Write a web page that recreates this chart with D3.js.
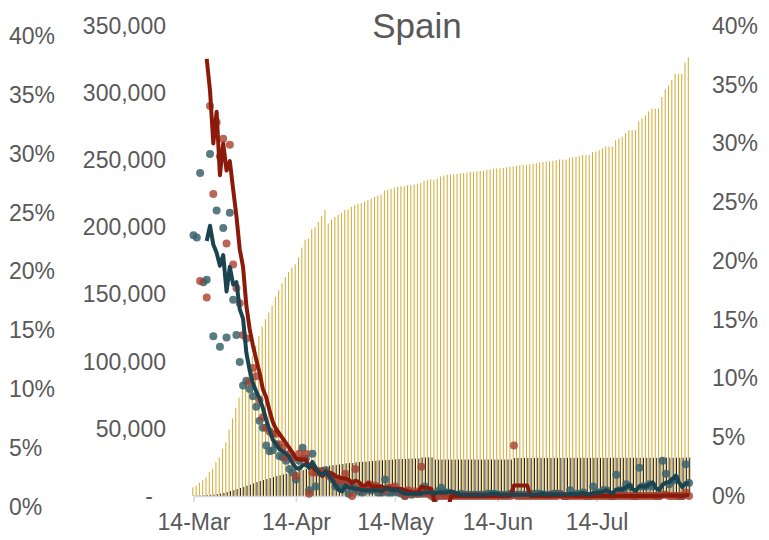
<!DOCTYPE html>
<html>
<head>
<meta charset="utf-8">
<script src="https://cdnjs.cloudflare.com/ajax/libs/d3/7.8.5/d3.min.js"></script>
<style>
body { margin: 0; background: #fff; }
svg text { font-family: "Liberation Sans", Arial, sans-serif; fill: #595959; }
</style>
</head>
<body>
<div id="chart"></div>
<script>
// Spain, daily from 14-Mar to 11-Aug
var startDate = new Date(2020, 2, 14);
var endDate = new Date(2020, 7, 11);

var tickDates = [new Date(2020, 2, 14), new Date(2020, 3, 14), new Date(2020, 4, 14), new Date(2020, 5, 14), new Date(2020, 6, 14)];
var casesTicks = [0, 50000, 100000, 150000, 200000, 250000, 300000, 350000];
var pctTicks = [0, 5, 10, 15, 20, 25, 30, 35, 40];

// cumulative confirmed cases
var cumCases = [
  6391, 7798, 9942, 11748, 13910, 17963, 20410, 25374, 28603, 35136,
  39885, 49515, 57786, 65719, 73235, 80110, 87956, 95923, 104118, 112065,
  119199, 126168, 131646, 136675, 141942, 148220, 153222, 158273, 163027, 166831,
  170099, 172541, 177644, 184948, 190839, 191726, 198674, 200210, 204178, 208389,
  213024, 202990, 205905, 207634, 209465, 210773, 212917, 213435, 215216, 216582,
  217466, 218011, 219329, 220325, 221447, 222857, 223578, 224350, 227436, 228030,
  228691, 229540, 230183, 230698, 230698, 231350, 231606, 232037, 232555, 233037,
  234824, 235290, 235772, 235400, 236259, 237906, 238564, 239228, 239479, 239638,
  239932, 240326, 240660, 240978, 241310, 241550, 241717, 241966, 242280, 242707,
  243209, 243605, 243928, 244109, 244328, 244683, 245268, 245575, 245938, 246272,
  246504, 246752, 247086, 247486, 247905, 248469, 248770, 248970, 249271, 249659,
  250103, 250545, 250545, 250545, 251789, 252130, 252513, 253056, 253908, 253908,
  253908, 255953, 256619, 257494, 258855, 260255, 260255, 260255, 264836, 266194,
  267551, 270166, 272421, 272421, 272421, 279000, 281200, 283500, 286300, 288522,
  288522, 288522, 297054, 302814, 305767, 309855, 314362, 314362, 314362, 322980,
  326612
];

// cumulative deaths
var cumDeaths = [
  195, 289, 342, 533, 623, 830, 1043, 1375, 1772, 2311,
  2808, 3647, 4365, 5138, 5982, 6803, 7716, 8464, 9387, 10348,
  11198, 11947, 12641, 13341, 14045, 14792, 15447, 16081, 16606, 17209,
  17756, 18056, 18708, 19315, 20002, 20043, 20453, 20852, 21282, 21717,
  22157, 22524, 22902, 23190, 23521, 23822, 24275, 24543, 24543, 25100,
  25264, 25428, 25613, 25857, 26070, 26299, 26478, 26621, 26744, 26920,
  27104, 27321, 27459, 27563, 27563, 27709, 27778, 27888, 27940, 28628,
  28678, 28752, 28752, 27117, 27117, 27118, 27119, 27121, 27125, 27127,
  27127, 27128, 27133, 27134, 27135, 27136, 27136, 27136, 27136, 27136,
  27136, 27136, 27136, 27136, 27136, 27136, 27136, 28315, 28322, 28322,
  28324, 28325, 28327, 28330, 28338, 28338, 28338, 28346, 28355, 28363,
  28368, 28385, 28385, 28385, 28388, 28392, 28396, 28401, 28403, 28403,
  28403, 28406, 28409, 28413, 28416, 28420, 28420, 28420, 28422, 28424,
  28426, 28429, 28432, 28432, 28432, 28436, 28441, 28443, 28445, 28445,
  28445, 28445, 28472, 28498, 28499, 28500, 28503, 28503, 28503, 28576,
  28579
];

// daily growth of cases, %
var caseGrowth = [
  22.2, 22.0, 27.5, 18.2, 18.4, 29.1, 13.6, 24.3, 12.7, 22.8,
  13.5, 24.1, 16.7, 13.7, 11.4, 9.4, 9.8, 9.1, 8.5, 7.6,
  6.4, 5.8, 4.3, 3.8, 3.9, 4.4, 3.4, 3.3, 3.0, 2.3,
  2.0, 1.4, 3.0, 4.1, 3.2, 0.5, 3.6, 0.8, 2.0, 2.1,
  2.2, -4.7, 1.4, 0.8, 0.9, 0.6, 1.0, 0.2, 0.8, 0.6,
  0.4, 0.3, 0.6, 0.5, 0.5, 0.6, 0.3, 0.3, 1.4, 0.3,
  0.3, 0.4, 0.3, 0.2, 0.0, 0.3, 0.1, 0.2, 0.2, 0.2,
  0.8, 0.2, 0.2, -0.2, 0.4, 0.7, 0.3, 0.3, 0.1, 0.1,
  0.1, 0.2, 0.1, 0.1, 0.1, 0.1, 0.1, 0.1, 0.1, 0.2,
  0.2, 0.2, 0.1, 0.1, 0.1, 0.1, 0.2, 0.1, 0.1, 0.1,
  0.1, 0.1, 0.1, 0.2, 0.2, 0.2, 0.1, 0.1, 0.1, 0.2,
  0.2, 0.2, 0.0, 0.0, 0.5, 0.1, 0.2, 0.2, 0.3, 0.0,
  0.0, 0.8, 0.3, 0.3, 0.5, 0.5, 0.0, 0.0, 1.8, 0.5,
  0.5, 1.0, 0.8, 0.0, 0.0, 2.4, 0.8, 0.8, 1.0, 0.8,
  0.0, 0.0, 3.0, 1.9, 1.0, 1.3, 1.5, 0.0, 0.0, 2.7,
  1.1
];

// daily growth of deaths, %
var deathGrowth = [
  46.6, 48.2, 18.3, 55.8, 16.9, 33.2, 25.7, 31.8, 28.9, 30.4,
  21.5, 29.9, 19.7, 17.7, 16.4, 13.7, 13.4, 9.7, 10.9, 10.2,
  8.2, 6.7, 5.8, 5.5, 5.3, 5.3, 4.4, 4.1, 3.3, 3.6,
  3.2, 1.7, 3.6, 3.2, 3.6, 0.2, 2.0, 2.0, 2.1, 2.0,
  2.0, 1.7, 1.7, 1.3, 1.4, 1.3, 1.9, 1.1, 0.0, 2.3,
  0.7, 0.6, 0.7, 1.0, 0.8, 0.9, 0.7, 0.5, 0.5, 0.7,
  0.7, 0.8, 0.5, 0.4, 0.0, 0.5, 0.2, 0.4, 0.2, 2.5,
  0.2, 0.3, 0.0, -5.7, 0.0, 0.0, 0.0, 0.0, 0.0, 0.0,
  0.0, 0.0, 0.0, 0.0, 0.0, 0.0, 0.0, 0.0, 0.0, 0.0,
  0.0, 0.0, 0.0, 0.0, 0.0, 0.0, 0.0, 4.3, 0.0, 0.0,
  0.0, 0.0, 0.0, 0.0, 0.0, 0.0, 0.0, 0.0, 0.0, 0.0,
  0.0, 0.1, 0.0, 0.0, 0.0, 0.0, 0.0, 0.0, 0.0, 0.0,
  0.0, 0.0, 0.0, 0.0, 0.0, 0.0, 0.0, 0.0, 0.0, 0.0,
  0.0, 0.0, 0.0, 0.0, 0.0, 0.0, 0.0, 0.0, 0.0, 0.0,
  0.0, 0.0, 0.1, 0.1, 0.0, 0.0, 0.0, 0.0, 0.0, 0.3,
  0.0
];

// 5-day average of case growth, %
var caseGrowthAvg = [
  null, null, null, null, 21.7, 23.0, 21.4, 20.7, 19.6, 20.5,
  17.4, 19.5, 18.0, 18.2, 15.9, 15.1, 12.2, 10.7, 9.6, 8.9,
  8.3, 7.5, 6.5, 5.6, 4.8, 4.4, 4.0, 3.8, 3.6, 3.3,
  2.8, 2.4, 2.3, 2.6, 2.7, 2.4, 2.9, 2.4, 2.0, 1.8,
  2.1, 1.7, 1.4, 0.9, 0.5, 0.4, 0.9, 0.7, 0.7, 0.6,
  0.6, 0.5, 0.5, 0.5, 0.5, 0.5, 0.5, 0.4, 0.6, 0.6,
  0.5, 0.5, 0.5, 0.3, 0.2, 0.2, 0.2, 0.2, 0.2, 0.2,
  0.3, 0.3, 0.3, 0.2, 0.3, 0.3, 0.3, 0.3, 0.4, 0.3,
  0.2, 0.1, 0.1, 0.1, 0.1, 0.1, 0.1, 0.1, 0.1, 0.1,
  0.2, 0.2, 0.2, 0.1, 0.1, 0.1, 0.1, 0.1, 0.1, 0.1,
  0.1, 0.1, 0.1, 0.1, 0.1, 0.2, 0.2, 0.1, 0.14, 0.14,
  0.14, 0.16, 0.14, 0.12, 0.18, 0.16, 0.16, 0.2, 0.26, 0.16,
  0.14, 0.26, 0.28, 0.28, 0.38, 0.48, 0.32, 0.26, 0.56, 0.56,
  0.56, 0.76, 0.92, 0.56, 0.46, 0.84, 0.8, 0.8, 1.0, 1.16,
  0.68, 0.52, 0.96, 1.14, 1.18, 1.44, 1.74, 1.14, 0.76, 1.1,
  1.06
];

// 5-day average of death growth, %
var deathGrowthAvg = [
  null, null, null, null, 37.2, 34.5, 30.0, 32.7, 27.3, 30.0,
  27.7, 28.5, 26.1, 23.8, 21.0, 19.5, 16.2, 14.2, 12.8, 11.6,
  10.5, 9.1, 8.4, 7.3, 6.3, 5.7, 5.3, 4.9, 4.5, 4.1,
  3.7, 3.2, 3.1, 3.1, 3.1, 2.5, 2.5, 2.2, 2.0, 1.7,
  2.0, 2.0, 1.9, 1.7, 1.6, 1.5, 1.5, 1.4, 1.1, 1.3,
  1.2, 0.9, 0.9, 1.1, 0.8, 0.8, 0.8, 0.8, 0.7, 0.7,
  0.6, 0.6, 0.6, 0.6, 0.5, 0.4, 0.3, 0.3, 0.3, 0.8,
  0.7, 0.7, 0.6, -0.5, -1.0, -1.1, -1.1, -1.1, 0.0, 0.0,
  0.0, 0.0, 0.0, 0.0, 0.0, 0.0, 0.0, 0.0, 0.0, 0.0,
  0.0, 0.0, 0.0, 0.0, 0.0, 0.0, 0.0, 0.9, 0.9, 0.9,
  0.9, 0.9, 0.0, 0.0, 0.0, 0.0, 0.0, 0.0, 0.0, 0.0,
  0.0, 0.02, 0.02, 0.02, 0.02, 0.02, 0.0, 0.0, 0.0, 0.0,
  0.0, 0.0, 0.0, 0.0, 0.0, 0.0, 0.0, 0.0, 0.0, 0.0,
  0.0, 0.0, 0.0, 0.0, 0.0, 0.0, 0.0, 0.0, 0.0, 0.0,
  0.0, 0.0, 0.02, 0.04, 0.04, 0.04, 0.04, 0.02, 0.0, 0.06,
  0.06
];

var width = 769, height = 540;

var svg = d3.select("#chart").append("svg")
    .attr("width", width)
    .attr("height", height);

var days = d3.timeDays(startDate, d3.timeDay.offset(endDate, 1));

var x = d3.scaleTime().domain([startDate, endDate]).range([193.5, 689]);
var yCases = d3.scaleLinear().domain([0, 350000]).range([496, 26]);
var yRate = d3.scaleLinear().domain([0, 40]).range([496, 26]);
var yOuter = d3.scaleLinear().domain([0, 40]).range([507, 36]);

// clip for the rate series (values outside the axis range are cut)
svg.append("clipPath").attr("id", "plot-clip")
    .append("rect")
    .attr("x", 185).attr("y", 24)
    .attr("width", 512).attr("height", 478);

// title
svg.append("text")
    .attr("x", 417)
    .attr("y", 38)
    .attr("text-anchor", "middle")
    .style("font-size", "35px")
    .text("Spain");

// cumulative cases bars
var barW = 1.0;
svg.append("g").selectAll("rect")
    .data(cumCases)
    .enter()
    .append("rect")
    .attr("x", function(d, i) { return x(days[i]) - barW - 0.2; })
    .attr("y", function(d) { return yCases(d); })
    .attr("width", barW)
    .attr("height", function(d) { return yCases(0) - yCases(d); })
    .attr("fill", "#d3aa32");

// cumulative deaths bars
svg.append("g").selectAll("rect")
    .data(cumDeaths)
    .enter()
    .append("rect")
    .attr("x", function(d, i) { return x(days[i]) + 0.2; })
    .attr("y", function(d) { return yCases(d); })
    .attr("width", barW)
    .attr("height", function(d) { return yCases(0) - yCases(d); })
    .attr("fill", "#1e1e1e");

// x axis
var xAxis = svg.append("g")
    .attr("transform", "translate(0,496)")
    .call(d3.axisBottom(x)
        .tickValues(tickDates)
        .tickSize(6)
        .tickSizeOuter(0)
        .tickPadding(12)
        .tickFormat(d3.timeFormat("%d-%b")));
xAxis.select(".domain").attr("stroke", "#d9d9d9").attr("stroke-width", 1.5);
xAxis.selectAll(".tick line").attr("stroke", "#d9d9d9").attr("stroke-width", 1.5);
xAxis.selectAll(".tick text").style("font-size", "23px").attr("fill", "#595959");

var plot = svg.append("g").attr("clip-path", "url(#plot-clip)");

// dots
plot.append("g").selectAll("circle")
    .data(caseGrowth)
    .enter()
    .append("circle")
    .attr("cx", function(d, i) { return x(days[i]); })
    .attr("cy", function(d) { return yRate(d); })
    .attr("r", 4)
    .attr("fill", "#3b636c")
    .attr("fill-opacity", 0.85);

plot.append("g").selectAll("circle")
    .data(deathGrowth)
    .enter()
    .append("circle")
    .attr("cx", function(d, i) { return x(days[i]); })
    .attr("cy", function(d) { return yRate(d); })
    .attr("r", 4)
    .attr("fill", "#a8402f")
    .attr("fill-opacity", 0.8);

// average lines
var line = d3.line()
    .defined(function(d) { return d != null; })
    .x(function(d, i) { return x(days[i]); })
    .y(function(d) { return yRate(d); });

plot.append("path")
    .datum(deathGrowthAvg)
    .attr("d", line)
    .attr("fill", "none")
    .attr("stroke", "#8c1a0b")
    .attr("stroke-width", 4)
    .attr("stroke-linejoin", "round");

plot.append("path")
    .datum(caseGrowthAvg)
    .attr("d", line)
    .attr("fill", "none")
    .attr("stroke", "#1b4450")
    .attr("stroke-width", 4)
    .attr("stroke-linejoin", "round");

// outer left % axis
var outerAxis = svg.append("g")
    .attr("transform", "translate(9,0)")
    .call(d3.axisRight(yOuter).tickValues(pctTicks).tickSize(0).tickPadding(0)
        .tickFormat(function(d) { return d + "%"; }));

// cases axis
var casesAxis = svg.append("g")
    .attr("transform", "translate(166,0)")
    .call(d3.axisLeft(yCases).tickValues(casesTicks).tickSize(0).tickPadding(0)
        .tickFormat(function(d) { return d === 0 ? "-" : d3.format(",")(d); }));
casesAxis.selectAll(".tick text").filter(function(d) { return d === 0; }).attr("dx", -13);

// right % axis
var rightAxis = svg.append("g")
    .attr("transform", "translate(712,0)")
    .call(d3.axisRight(yRate).tickValues(pctTicks).tickSize(0).tickPadding(0)
        .tickFormat(function(d) { return d + "%"; }));

[outerAxis, casesAxis, rightAxis].forEach(function(g) {
    g.select(".domain").remove();
    g.selectAll(".tick text").style("font-size", "23px").attr("fill", "#595959");
});
</script>
</body>
</html>
